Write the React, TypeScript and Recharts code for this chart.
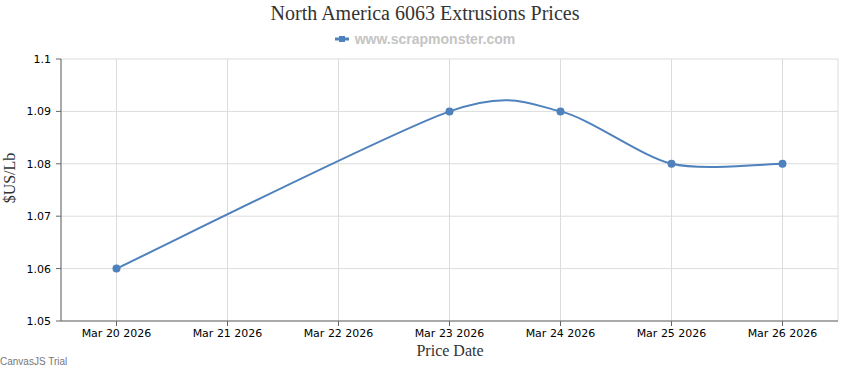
import React from 'react';
import { LineChart, Line, XAxis, YAxis, CartesianGrid } from 'recharts';

const dateLabels = ['Mar 20 2026', 'Mar 21 2026', 'Mar 22 2026', 'Mar 23 2026', 'Mar 24 2026', 'Mar 25 2026', 'Mar 26 2026'];
const priceDates = ['Mar 20 2026', 'Mar 23 2026', 'Mar 24 2026', 'Mar 25 2026', 'Mar 26 2026'];
const prices = [1.06, 1.09, 1.09, 1.08, 1.08];
const yTicks = [1.05, 1.06, 1.07, 1.08, 1.09, 1.1];

const data = priceDates.map((d, i) => ({ x: dateLabels.indexOf(d), price: prices[i] }));
const xTicks = dateLabels.map((_, i) => i);

const COLOR = '#4f81bc';
const K = 0.135;

// CanvasJS-like cardinal spline
function splineCurve(context: any) {
  let pts: number[][] = [];
  return {
    areaStart() {},
    areaEnd() {},
    lineStart() { pts = []; },
    point(x: number, y: number) { pts.push([+x, +y]); },
    lineEnd() {
      if (!pts.length) return;
      context.moveTo(pts[0][0], pts[0][1]);
      for (let i = 0; i < pts.length - 1; i++) {
        const p0 = pts[Math.max(i - 1, 0)];
        const p1 = pts[i];
        const p2 = pts[i + 1];
        const p3 = pts[Math.min(i + 2, pts.length - 1)];
        const c1x = p1[0] + (p2[0] - p0[0]) * K;
        const c1y = p1[1] + (p2[1] - p0[1]) * K;
        const c2x = p2[0] - (p3[0] - p1[0]) * K;
        const c2y = p2[1] - (p3[1] - p1[1]) * K;
        context.bezierCurveTo(c1x, c1y, c2x, c2y, p2[0], p2[1]);
      }
    },
  };
}

const tickStyle = { fontFamily: 'DejaVu Sans', fontSize: 11, fill: '#000' };

export default function App() {
  return (
    <div style={{ position: 'absolute', left: 0, top: 0, width: 850, height: 370, background: '#fff', overflow: 'hidden' }}>
      <div style={{ position: 'absolute', left: 0, top: 2, width: 850, textAlign: 'center', fontFamily: 'Liberation Serif', fontSize: 20, color: '#333' }}>
        North America 6063 Extrusions Prices
      </div>
      <div style={{ position: 'absolute', left: 0, top: 31, width: 850, display: 'flex', justifyContent: 'center', alignItems: 'center' }}>
        <svg width={14} height={10} style={{ marginRight: 6 }}>
          <line x1={0} y1={5} x2={14} y2={5} stroke={COLOR} strokeWidth={3} />
          <rect x={4} y={2} width={6} height={6} fill={COLOR} />
        </svg>
        <span style={{ fontFamily: 'Liberation Sans', fontWeight: 'bold', fontSize: 14, color: '#c4c4c4' }}>www.scrapmonster.com</span>
      </div>
      <LineChart width={850} height={370} data={data} margin={{ top: 59, right: 12, bottom: 0, left: 0 }}>
        <CartesianGrid stroke="#dcdcdc" strokeWidth={1} />
        <XAxis
          dataKey="x"
          type="number"
          domain={[-0.5, 6.5]}
          ticks={xTicks}
          tickFormatter={(v: number) => dateLabels[v] ?? ''}
          height={49}
          tick={tickStyle}
          tickSize={5}
          tickMargin={3}
          stroke="#666"
          tickLine={{ stroke: '#666' }}
          interval={0}
        />
        <YAxis
          domain={[1.05, 1.1]}
          ticks={yTicks}
          tickFormatter={(v: number) => String(Number(v.toFixed(2)))}
          width={61}
          tick={tickStyle}
          tickSize={5}
          tickMargin={5}
          stroke="#666"
          allowDataOverflow
        />
        <Line
          dataKey="price"
          type={splineCurve as any}
          stroke={COLOR}
          strokeWidth={2}
          dot={{ r: 4, fill: COLOR, stroke: COLOR, strokeWidth: 0 }}
          activeDot={false}
          isAnimationActive={false}
        />
      </LineChart>
      <div style={{ position: 'absolute', left: 0, top: 342, width: 900, textAlign: 'center', fontFamily: 'Liberation Serif', fontSize: 16, color: '#333' }}>
        Price Date
      </div>
      <div style={{ position: 'absolute', left: 10, top: 178, width: 0, height: 0 }}>
        <div style={{ position: 'absolute', transform: 'translate(-50%, -50%) rotate(-90deg)', whiteSpace: 'nowrap', fontFamily: 'Liberation Serif', fontSize: 16, color: '#333' }}>
          $US/Lb
        </div>
      </div>
      <div style={{ position: 'absolute', left: 0, top: 356, fontFamily: 'Liberation Sans', fontSize: 10, color: '#777' }}>
        CanvasJS Trial
      </div>
    </div>
  );
}
